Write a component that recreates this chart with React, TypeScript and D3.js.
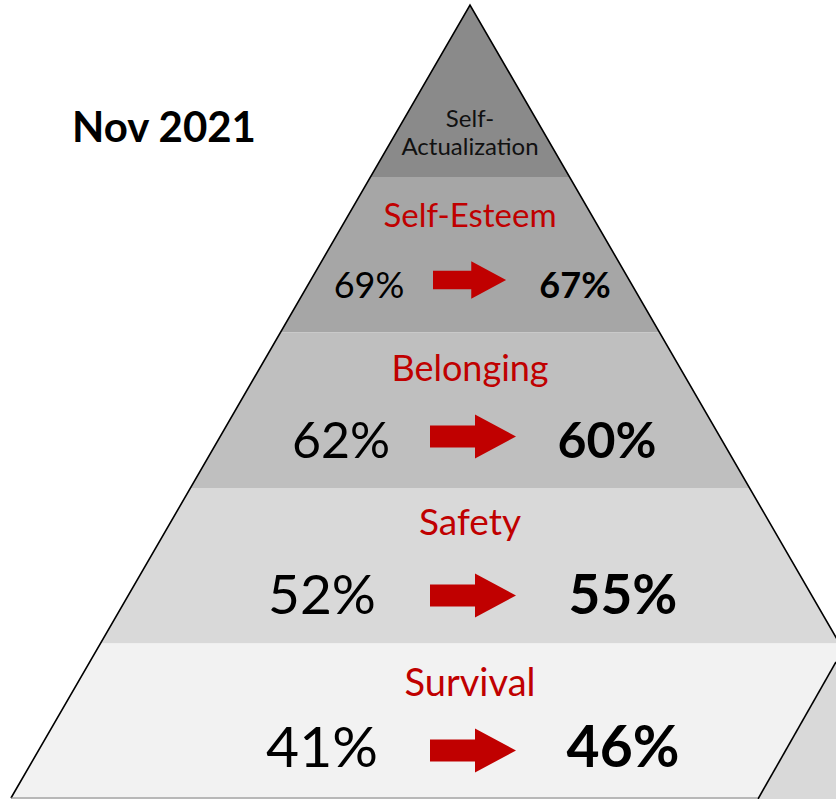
import React from "react";
import * as d3 from "d3";

// ---- data ----
const levels = ["Self-Actualization", "Self-Esteem", "Belonging", "Safety", "Survival"];
const beforeValues = [null, 69, 62, 52, 41];
const afterValues = [null, 67, 60, 55, 46];
const titleText = "Nov 2021";

// ---- layout / style ----
const W = 836;
const H = 799;
const FONT = "Lato, 'Open Sans', sans-serif";
const bandFills = ["#8a8a8a", "#a6a6a6", "#bfbfbf", "#d9d9d9", "#f2f2f2"];
// per-level text/arrow styling
const labelSize = [24, 33, 36, 37, 38];
const valueSize = [0, 36, 50, 55, 57];
const labelOffset = [0, 50, 48, 47, 52];
const valueOffset = [0, 121, 125, 126, 123];
const arrowOffset = [0, 103, 104, 107.5, 107];
const arrowScale = [0, 0.85, 1, 1, 1];
const leftCenter = [0, 369, 341, 322, 322];
const rightCenter = [0, 575, 607, 623, 623];

export default function App() {
  const cx = 470;
  const apexY = 5;
  // band boundaries: apex, then evenly spaced
  const yB = d3.scaleLinear().domain([1, 5]).range([177, 799]);
  const boundary = (i: number) => (i === 0 ? apexY : yB(i));
  // half-width of pyramid at given y
  const halfW = d3.scaleLinear().domain([apexY, 798]).range([0, 459]);

  const bandPath = (i: number) => {
    const y0 = boundary(i);
    const y1 = i === 4 ? H + 40 : boundary(i + 1);
    const p = d3.path();
    p.moveTo(cx - halfW(y0), y0);
    p.lineTo(cx + halfW(y0), y0);
    p.lineTo(cx + halfW(y1), y1);
    p.lineTo(cx - halfW(y1), y1);
    p.closePath();
    return p.toString();
  };

  const arrowPath = (i: number) => {
    const s = arrowScale[i];
    const yc = boundary(i) + arrowOffset[i];
    const len = 86 * s;
    const x0 = cx - 40 * s - (s < 1 ? 3 : 0);
    const headStart = x0 + 45 * s;
    const shaft = 11 * s;
    const head = 22 * s;
    const p = d3.path();
    p.moveTo(x0, yc - shaft);
    p.lineTo(headStart, yc - shaft);
    p.lineTo(headStart, yc - head);
    p.lineTo(x0 + len, yc);
    p.lineTo(headStart, yc + head);
    p.lineTo(headStart, yc + shaft);
    p.lineTo(x0, yc + shaft);
    p.closePath();
    return p.toString();
  };

  const edgeBottom = 798;
  const leftEdge = d3.line()([
    [cx - halfW(edgeBottom), edgeBottom],
    [cx, apexY],
    [cx + halfW(H + 40), H + 40],
  ]);

  return (
    <svg
      width={W}
      height={H}
      style={{ position: "fixed", left: 0, top: 0, background: "#ffffff" }}
      fontFamily={FONT}
    >
      <rect width={W} height={H} fill="#ffffff" />
      {levels.map((_, i) => (
        <path key={"band" + i} d={bandPath(i)} fill={bandFills[i]} />
      ))}
      {/* 3D side face of the base */}
      <path d={d3.line()([[836, 662], [758, 799], [836, 799]]) as string} fill="#d9d9d9" />
      <line x1={836} y1={662} x2={758} y2={799} stroke="#000" strokeWidth={1.6} />
      <path d={leftEdge as string} fill="none" stroke="#000" strokeWidth={1.6} />
      <line x1={cx - halfW(edgeBottom)} y1={798} x2={758} y2={798} stroke="#7f7f7f" strokeWidth={1.2} />

      {/* Top level label */}
      <text x={cx} y={127} textAnchor="middle" fontSize={labelSize[0]} fill="#111">
        Self-
      </text>
      <text x={cx} y={155} textAnchor="middle" fontSize={labelSize[0]} fill="#111">
        Actualization
      </text>

      {levels.map((name, i) =>
        i === 0 ? null : (
          <g key={"lvl" + i}>
            <text
              x={cx}
              y={boundary(i) + labelOffset[i]}
              textAnchor="middle"
              fontSize={labelSize[i]}
              fill="#c00000"
            >
              {name}
            </text>
            <text
              x={leftCenter[i]}
              y={boundary(i) + valueOffset[i]}
              textAnchor="middle"
              fontSize={valueSize[i]}
              fill="#000"
            >
              {beforeValues[i]}%
            </text>
            <path d={arrowPath(i)} fill="#c00000" />
            <text
              x={rightCenter[i]}
              y={boundary(i) + valueOffset[i]}
              textAnchor="middle"
              fontSize={valueSize[i]}
              fontWeight="bold"
              fill="#000"
            >
              {afterValues[i]}%
            </text>
          </g>
        )
      )}

      <text x={72} y={142} fontSize={42} fontWeight="bold" fill="#000">
        {titleText}
      </text>
    </svg>
  );
}
